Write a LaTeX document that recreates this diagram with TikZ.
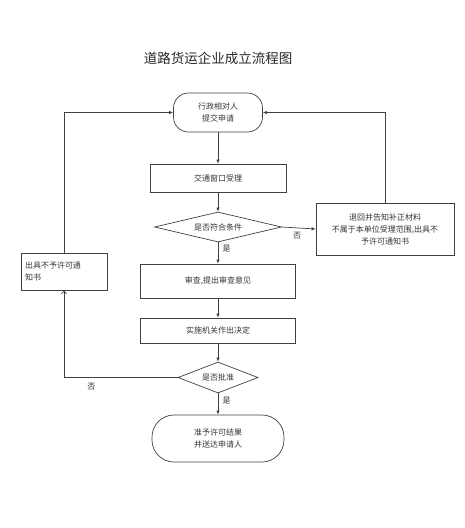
\documentclass[tikz,border=0pt]{standalone}
\usepackage{fontspec}
\newfontfamily\cjk{Noto Sans CJK SC}
\usetikzlibrary{arrows.meta,shapes.geometric}

\begin{document}
\begin{tikzpicture}[x=1pt, y=-1pt, >={Latex[length=4pt,width=3.5pt]}, line width=0.7pt,
  every node/.style={font=\cjk\fontsize{8}{12}\selectfont, text=black!80},
  box/.style={draw=black!75, rectangle, inner sep=0pt, align=center},
  term/.style={draw=black!75, rectangle, rounded corners=15pt, inner sep=0pt, align=center},
  ask/.style={draw=black!75, diamond, aspect=4, inner sep=0pt},
  flow/.style={->, draw=black!75}]
\useasboundingbox (0,0) rectangle (465,528);

% Title
\node[font=\cjk\fontsize{13.5}{16}\selectfont, text=black!85] (title) at (218,58) {道路货运企业成立流程图};

% Main column
\node[term, minimum width=89pt, minimum height=39pt] (apply) at (218,112.5) {行政相对人\\提交申请};
\node[box, minimum width=136pt, minimum height=28pt] (window) at (218,178) {交通窗口受理};
\node[ask, minimum width=127pt, minimum height=30pt] (cond) at (218,227) {是否符合条件};
\node[box, minimum width=155pt, minimum height=34pt] (review) at (218,281) {审查,提出审查意见};
\node[box, minimum width=155pt, minimum height=25pt] (decide) at (218,330.5) {实施机关作出决定};
\node[ask, minimum width=80pt, minimum height=31pt] (approve) at (218,377.5) {是否批准};
\node[term, rounded corners=22pt, minimum width=132pt, minimum height=47pt] (grant) at (218,438.5) {准予许可结果\\并送达申请人};

% Side boxes
\node[box, minimum width=138pt, minimum height=52pt] (back) at (385,229) {退回并告知补正材料\\不属于本单位受理范围,出具不\\予许可通知书};
\node[box, minimum width=86pt, minimum height=37pt, align=left, text width=78pt] (refuse) at (64,271.5) {出具不予许可通\\知书};

% Arrows
\draw[flow] (apply) -- (window);
\draw[flow] (window) -- (cond);
\draw[flow] (cond) -- (review) node[pos=0.3, right=1pt] {是};
\draw[flow] (review) -- (decide);
\draw[flow] (decide) -- (approve);
\draw[flow] (approve) -- (grant) node[pos=0.35, right=1pt] {是};
\draw[flow] (cond.east) -- (back.west) node[pos=0.45, below=1pt] {否};
\draw[flow] (back.north) |- (apply.east);
\draw[flow] (refuse.north) |- (apply.west);
\draw[->, draw=black!75, >={Straight Barb[length=3pt,width=5pt]}] (approve.west) -| (refuse.south) node[pos=0.38, below=2pt] {否};
\end{tikzpicture}
\end{document}
